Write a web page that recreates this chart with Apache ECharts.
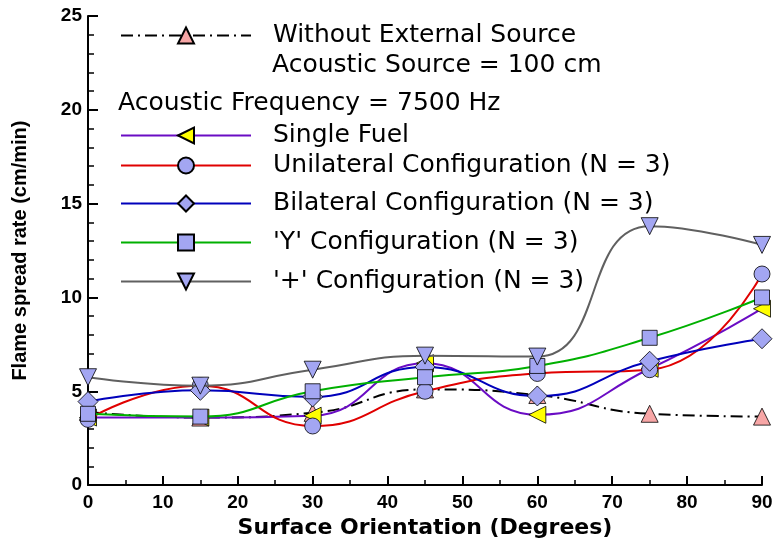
<!DOCTYPE html>
<html><head><meta charset="utf-8">
<script src="https://cdn.jsdelivr.net/npm/echarts@6/dist/echarts.min.js"></script>
<style>html,body{margin:0;padding:0;background:#fff;overflow:hidden}#c{width:777px;height:544px}</style>
</head><body><div id="c"></div>
<script>
var angles = [0, 15, 30, 45, 60, 75, 90];
var withoutSource = [3.9, 3.6, 3.85, 5.1, 4.8, 3.8, 3.65];
var singleFuel = [3.6, 3.6, 3.7, 6.5, 3.75, 6.2, 9.4];
var unilateral = [3.5, 5.3, 3.15, 5.0, 5.95, 6.15, 11.25];
var bilateral = [4.45, 5.05, 4.7, 6.3, 4.75, 6.6, 7.8];
var yConfig = [3.8, 3.65, 5.0, 5.75, 6.35, 7.85, 10.0];
var plusConfig = [5.75, 5.3, 6.15, 6.9, 6.85, 13.8, 12.8];
var names = ["Without External Source", "Single Fuel", "Unilateral Configuration (N = 3)",
  "Bilateral Configuration (N = 3)", "'Y' Configuration (N = 3)", "'+' Configuration (N = 3)"];
var yTicks = [0, 5, 10, 15, 20, 25];
var xTicks = [0, 10, 20, 30, 40, 50, 60, 70, 80, 90];

function pts(arr){ return angles.map(function(a,i){ return [a, arr[i]]; }); }
var MF = '#a3a6f2';
var font = 'Liberation Sans, Arial, sans-serif';
var wfont = 'DejaVu Sans, sans-serif';

function mk(name, data, color, lineType, symbol, rot, size, fill, z){
  return {
    name: name, type: 'line', data: pts(data), smooth: 0.5,
    symbol: symbol, symbolSize: size, symbolRotate: rot,
    lineStyle: {color: color, width: 2, type: lineType},
    itemStyle: {color: fill, borderColor: '#000', borderWidth: 0.8},
    z: z
  };
}
var series = [
  mk(names[0], withoutSource, '#000', [12, 5, 2, 5], 'triangle', 0, 17, '#f7a6a6', 2),
  mk(names[1], singleFuel, '#6a0cc4', 'solid', 'triangle', 90, 17, '#ffff00', 3),
  mk(names[2], unilateral, '#e00000', 'solid', 'circle', 0, 16, MF, 4),
  mk(names[3], bilateral, '#0000bb', 'solid', 'diamond', 0, 20, MF, 5),
  mk(names[4], yConfig, '#00b000', 'solid', 'rect', 0, 15, MF, 6),
  mk(names[5], plusConfig, '#606060', 'solid', 'triangle', 180, 17, MF, 7)
];
var rowsY = [36, 136, 166, 204, 243, 282];
var legends = names.map(function(n, i){
  return {
    data: [n], left: 115, top: rowsY[i] - 18, orient: 'vertical',
    itemWidth: 130, itemHeight: 20, selectedMode: false,
    textStyle: {fontSize: 25, fontFamily: wfont, color: '#000', padding: [0, 0, 0, 17]}
  };
});
var option = {
  animation: false,
  backgroundColor: '#fff',
  grid: {left: 88, right: 15, top: 16, bottom: 54},
  legend: legends,
  graphic: [
    {type: 'text', left: 272, top: 53, style: {text: 'Acoustic Source = 100 cm', font: '25px ' + wfont, fill: '#000'}},
    {type: 'text', left: 118, top: 91, style: {text: 'Acoustic Frequency = 7500 Hz', font: '25px ' + wfont, fill: '#000'}}
  ],
  xAxis: {
    type: 'value', min: 0, max: 90, interval: 10,
    name: 'Surface Orientation (Degrees)', nameLocation: 'middle', nameGap: 28,
    nameTextStyle: {fontSize: 22, fontWeight: 'bold', fontFamily: wfont, color: '#000'},
    axisLine: {onZero: false, lineStyle: {color: '#000', width: 2}},
    axisTick: {inside: true, length: 9, lineStyle: {color: '#000', width: 2}},
    minorTick: {show: true, splitNumber: 2, length: 5, lineStyle: {color: '#000', width: 1.5}},
    axisLabel: {fontSize: 19, fontWeight: 'bold', fontFamily: font, color: '#000', margin: 8,
      formatter: function(v){ return xTicks.indexOf(v) >= 0 ? String(v) : ''; }},
    splitLine: {show: false}
  },
  yAxis: {
    type: 'value', min: 0, max: 25, interval: 5,
    name: 'Flame spread rate (cm/min)', nameLocation: 'middle', nameGap: 58,
    nameTextStyle: {fontSize: 20, fontWeight: 'bold', fontFamily: font, color: '#000'},
    axisLine: {onZero: false, lineStyle: {color: '#000', width: 2}},
    axisTick: {inside: true, length: 10, lineStyle: {color: '#000', width: 2}},
    minorTick: {show: true, splitNumber: 5, length: 6, lineStyle: {color: '#000', width: 1.5}},
    axisLabel: {fontSize: 19, fontWeight: 'bold', fontFamily: font, color: '#000', margin: 6,
      formatter: function(v){ return yTicks.indexOf(v) >= 0 ? String(v) : ''; }},
    splitLine: {show: false}
  },
  series: series
};
var chart = echarts.init(document.getElementById('c'), null, {renderer: 'canvas'});
chart.setOption(option);
</script></body></html>
